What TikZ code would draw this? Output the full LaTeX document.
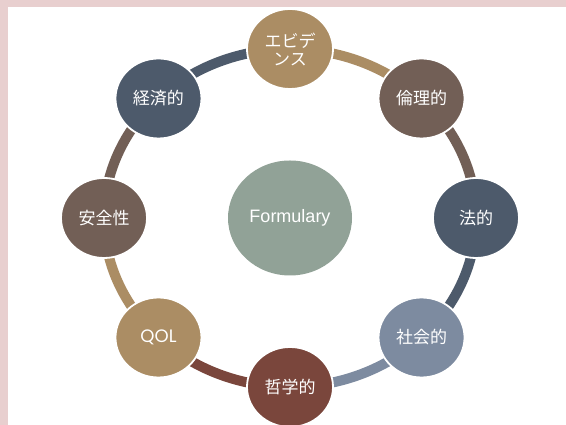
\documentclass[tikz,border=0pt]{standalone}
\usepackage{fontspec}
\setmainfont{Liberation Sans}
\newfontfamily\jpfont{Noto Sans CJK JP}
\newfontfamily\qolfont{Poppins}
\usetikzlibrary{shapes.geometric,backgrounds,calc}
\definecolor{pinkband}{HTML}{E8CFCF}
\definecolor{ctan}{HTML}{AB8D64}
\definecolor{cbrown}{HTML}{725F56}
\definecolor{cslate}{HTML}{4D5A6B}
\definecolor{cgrayblue}{HTML}{7D8BA0}
\definecolor{credbrown}{HTML}{7A463C}
\definecolor{cgreen}{HTML}{91A297}
\begin{document}
\begin{tikzpicture}[x=1pt,y=1pt,
  ringnode/.style={ellipse, minimum width=86pt, minimum height=80pt, inner sep=0pt,
    draw=white, line width=1.8pt, text=white, align=center,
    font=\jpfont\fontsize{17}{18}\selectfont},
  seg/.style={line width=10pt},
  centernode/.style={ellipse, minimum width=124pt, minimum height=115pt, inner sep=0pt,
    fill=cgreen, text=white, font=\fontsize{18}{20}\selectfont}
]
\useasboundingbox (0,0) rectangle (566,425);
\coordinate (c) at (290,207);

\node[centernode] (formulary) at (c) {Formulary};

\node[ringnode, fill=ctan]      (evid)  at ($(c)+(90:186pt and 169pt)$)   {エビデ\\ンス};
\node[ringnode, fill=cbrown]    (rinri) at ($(c)+(45:186pt and 169pt)$)   {倫理的};
\node[ringnode, fill=cslate]    (hou)   at ($(c)+(0:186pt and 169pt)$)    {法的};
\node[ringnode, fill=cgrayblue] (shakai) at ($(c)+(-45:186pt and 169pt)$) {社会的};
\node[ringnode, fill=credbrown] (tetsu) at ($(c)+(-90:186pt and 169pt)$)  {哲学的};
\node[ringnode, fill=ctan, font=\qolfont\fontsize{18}{20}\selectfont] (qol) at ($(c)+(-135:186pt and 169pt)$) {QOL};
\node[ringnode, fill=cbrown]    (anzen) at ($(c)+(180:186pt and 169pt)$)  {安全性};
\node[ringnode, fill=cslate]    (keizai) at ($(c)+(135:186pt and 169pt)$) {経済的};

\begin{scope}[on background layer]
  \fill[white] (0,0) rectangle (566,425);
  \fill[pinkband] (0,418) rectangle (566,425);
  \fill[pinkband] (0,0) rectangle (8,425);
  \draw[seg, ctan]      (evid.center)   arc[start angle=90,   end angle=45,   x radius=186pt, y radius=169pt];
  \draw[seg, cbrown]    (rinri.center)  arc[start angle=45,   end angle=0,    x radius=186pt, y radius=169pt];
  \draw[seg, cslate]    (hou.center)    arc[start angle=0,    end angle=-45,  x radius=186pt, y radius=169pt];
  \draw[seg, cgrayblue] (shakai.center) arc[start angle=-45,  end angle=-90,  x radius=186pt, y radius=169pt];
  \draw[seg, credbrown] (tetsu.center)  arc[start angle=-90,  end angle=-135, x radius=186pt, y radius=169pt];
  \draw[seg, ctan]      (qol.center)    arc[start angle=-135, end angle=-180, x radius=186pt, y radius=169pt];
  \draw[seg, cbrown]    (anzen.center)  arc[start angle=180,  end angle=135,  x radius=186pt, y radius=169pt];
  \draw[seg, cslate]    (keizai.center) arc[start angle=135,  end angle=90,   x radius=186pt, y radius=169pt];
\end{scope}
\end{tikzpicture}
\end{document}
